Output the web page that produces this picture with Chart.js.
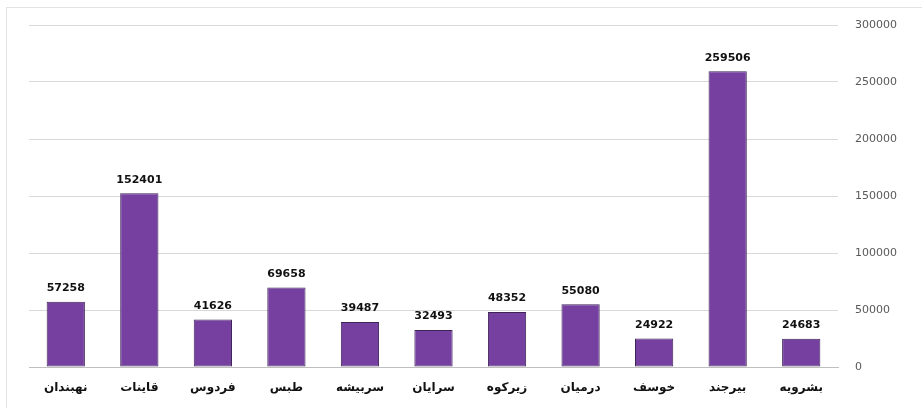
<!DOCTYPE html>
<html>
<head>
<meta charset="utf-8">
<script src="https://cdn.jsdelivr.net/npm/chart.js@4"></script>
<style>
  html, body { margin: 0; padding: 0; background: #fff; }
  #wrap { position: relative; width: 922px; height: 408px; }
  #frame { position: absolute; left: 6px; top: 7px; width: 930px; height: 420px; border: 1px solid #e3e3e3; box-sizing: border-box; }
  canvas { position: absolute; left: 0; top: 0; }
</style>
</head>
<body>
<div id="wrap">
  <div id="frame"></div>
  <canvas id="chart" width="922" height="408"></canvas>
</div>
<script>
const categories = ['نهبندان', 'قاینات', 'فردوس', 'طبس', 'سربیشه', 'سرایان', 'زیرکوه', 'درمیان', 'خوسف', 'بیرجند', 'بشرویه'];
const values = [57258, 152401, 41626, 69658, 39487, 32493, 48352, 55080, 24922, 259506, 24683];
const yTicks = [0, 50000, 100000, 150000, 200000, 250000, 300000];

// draws value above each bar
const valueLabels = {
    id: 'valueLabels',
    afterDatasetsDraw(chart) {
        const ctx = chart.ctx;
        const meta = chart.getDatasetMeta(0);
        ctx.save();
        ctx.font = 'bold 11px "DejaVu Sans"';
        ctx.fillStyle = '#111';
        ctx.textAlign = 'center';
        ctx.textBaseline = 'bottom';
        meta.data.forEach((bar, i) => {
            ctx.fillText(values[i], bar.x, bar.y - 8);
        });
        ctx.restore();
    }
};

const ctx = document.getElementById('chart').getContext('2d');
new Chart(ctx, {
    type: 'bar',
    data: {
        labels: categories,
        datasets: [{
            data: values,
            backgroundColor: '#7540a0',
            borderColor: '#3d2356',
            borderWidth: 1,
            borderSkipped: false,
            categoryPercentage: 1,
            barPercentage: 0.52
        }]
    },
    options: {
        responsive: false,
        animation: false,
        layout: { padding: { left: 29, top: 25, right: 0, bottom: 0 } },
        plugins: { legend: { display: false }, tooltip: { enabled: false } },
        scales: {
            x: {
                grid: { display: false, drawTicks: false },
                border: { color: '#bfbfbf', width: 1, z: 1 },
                ticks: {
                    color: '#111',
                    font: { family: 'DejaVu Sans', size: 12, weight: 'bold' },
                    padding: 14,
                    maxRotation: 0
                },
                afterFit(scale) { scale.height = 41; }
            },
            y: {
                position: 'right',
                min: 0,
                max: 300000,
                afterBuildTicks(scale) { scale.ticks = yTicks.map(v => ({ value: v })); },
                grid: { color: '#d9d9d9', lineWidth: 1, drawTicks: false },
                border: { display: false },
                ticks: {
                    color: '#595959',
                    font: { family: 'DejaVu Sans', size: 11 },
                    padding: 17,
                    callback: v => String(v)
                },
                afterFit(scale) { scale.width = 84; }
            }
        }
    },
    plugins: [valueLabels]
});
</script>
</body>
</html>
